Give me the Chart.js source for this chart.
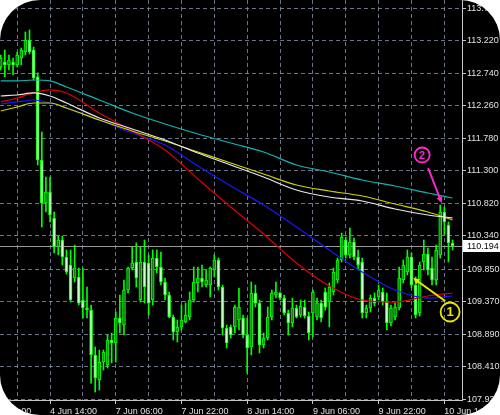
<!DOCTYPE html>
<html>
<head>
<meta charset="utf-8">
<script src="https://cdn.jsdelivr.net/npm/chart.js@4.4.1/dist/chart.umd.min.js"></script>
<style>
  html, body { margin: 0; padding: 0; background: #fff; }
  #frame { width: 500px; height: 415px; border-radius: 40px; overflow: hidden; background: #000; }
  canvas { display: block; }
</style>
</head>
<body>
<div id="frame"><canvas id="chart" width="500" height="415"></canvas></div>
<script>
// H1 candles, first one is 4 Jun 02:00, last one 10 Jun 16:00
const openP = [
  112.832, 112.906, 112.862, 112.906, 112.862, 112.965, 113.053, 113.230, 113.083, 112.685,
  111.460, 110.826, 110.988, 110.605, 110.177, 110.280, 110.029, 109.911, 109.719, 109.734,
  109.395, 109.277, 109.247, 108.584, 108.215, 108.480, 108.436, 108.805, 108.761, 109.129,
  109.026, 109.542, 109.867, 109.956, 109.395, 109.956, 109.941, 109.395, 110.014, 109.882,
  109.660, 109.469, 109.144, 108.923, 108.997, 109.070, 109.144, 109.395, 109.646, 109.719,
  109.616, 109.616, 109.838, 109.985, 109.587, 108.982, 108.997, 108.997, 109.100, 109.129,
  108.879, 108.702, 109.498, 109.350, 108.731, 108.834, 109.144, 109.469, 109.498, 109.424,
  109.203, 109.056, 109.277, 109.174, 109.291, 109.159, 109.203, 109.144, 109.350, 109.513,
  109.365, 109.513, 109.690, 109.985, 110.280, 110.059, 110.251, 110.029, 109.956, 109.203,
  109.277, 109.424, 109.439, 109.513, 109.365, 109.056, 109.144, 109.277, 109.690, 109.808,
  110.029, 109.616, 109.203, 109.956, 110.074, 109.867, 109.690, 110.059, 110.693, 110.501,
  110.236
];
const highP = [
  113.009, 113.083, 113.009, 112.965, 113.053, 113.112, 113.348, 113.378, 113.127, 112.744,
  111.873, 111.209, 111.209, 110.693, 110.339, 110.339, 110.133, 110.133, 110.206, 109.867,
  109.867, 109.587, 109.321, 108.702, 108.657, 108.657, 108.879, 108.908, 109.218, 109.469,
  109.690, 109.882, 110.177, 110.236, 110.177, 110.280, 110.059, 110.133, 110.133, 110.103,
  109.719, 109.513, 109.174, 109.100, 109.321, 109.350, 109.513, 109.882, 109.882, 109.911,
  109.838, 109.882, 110.059, 110.014, 109.616, 109.026, 109.026, 109.321, 109.572, 109.174,
  109.129, 109.660, 109.616, 109.395, 108.908, 109.291, 109.542, 109.660, 109.513, 109.469,
  109.247, 109.424, 109.321, 109.395, 109.395, 109.218, 109.542, 109.424, 109.395, 109.572,
  109.646, 109.867, 110.014, 110.383, 110.324, 110.457, 110.310, 110.133, 110.014, 109.321,
  109.469, 109.498, 109.616, 109.572, 109.498, 109.321, 109.350, 109.882, 109.985, 110.133,
  110.088, 109.734, 109.956, 110.280, 110.162, 110.029, 110.206, 110.796, 110.767, 110.546,
  110.280
];
const lowP = [
  112.788, 112.685, 112.788, 112.714, 112.832, 112.862, 113.009, 113.024, 112.640, 111.386,
  110.471, 110.693, 110.546, 110.088, 110.059, 109.911, 109.778, 109.365, 109.660, 109.321,
  109.129, 109.129, 108.170, 108.037, 108.067, 108.362, 108.392, 108.466, 108.480, 108.908,
  108.879, 109.498, 109.838, 109.587, 109.365, 109.350, 109.174, 109.321, 109.793, 109.616,
  109.395, 109.129, 108.805, 108.775, 108.952, 109.056, 109.100, 109.365, 109.513, 109.587,
  109.587, 109.439, 109.734, 109.542, 108.879, 108.687, 108.834, 108.908, 108.952, 108.834,
  108.318, 108.584, 109.291, 108.613, 108.687, 108.805, 109.100, 109.424, 109.395, 109.174,
  108.879, 108.997, 109.129, 109.144, 109.129, 108.805, 108.849, 109.100, 109.070, 109.247,
  108.997, 109.469, 109.646, 109.956, 110.014, 110.014, 109.985, 109.838, 109.129, 109.129,
  109.218, 109.306, 109.395, 109.321, 108.952, 109.011, 109.100, 109.247, 109.646, 109.764,
  109.572, 109.129, 109.159, 109.838, 109.764, 109.616, 109.616, 110.014, 110.354, 109.956,
  110.133
];
const closeP = [
  112.965, 112.862, 112.935, 112.862, 113.009, 113.083, 113.230, 113.053, 112.670, 111.460,
  110.826, 110.988, 110.649, 110.177, 110.280, 110.029, 109.808, 109.395, 109.867, 109.350,
  109.277, 109.247, 108.584, 108.244, 108.480, 108.628, 108.805, 108.761, 109.129, 109.056,
  109.542, 109.867, 109.941, 109.719, 109.956, 109.587, 109.350, 110.014, 109.882, 109.660,
  109.469, 109.144, 108.923, 108.997, 109.100, 109.174, 109.395, 109.660, 109.719, 109.660,
  109.690, 109.867, 109.985, 109.587, 108.982, 108.761, 108.879, 109.291, 109.291, 108.879,
  108.687, 109.498, 109.350, 108.731, 108.834, 109.144, 109.498, 109.513, 109.424, 109.203,
  109.056, 109.277, 109.144, 109.306, 109.159, 108.908, 109.513, 109.350, 109.129, 109.291,
  109.587, 109.808, 109.985, 110.324, 110.059, 110.251, 110.029, 109.911, 109.203, 109.277,
  109.424, 109.350, 109.542, 109.365, 109.056, 109.277, 109.291, 109.719, 109.911, 110.029,
  109.616, 109.174, 109.911, 110.074, 109.838, 109.690, 110.133, 110.693, 110.546, 110.236,
  110.194
];

// moving averages, read at these candles
const maIdx = [0, 4, 8, 12, 16, 24, 32, 40, 48, 56, 64, 72, 80, 88, 96, 104, 110];
const maCyan = [112.626, 112.626, 112.640, 112.626, 112.537, 112.345, 112.153, 111.991, 111.844, 111.711, 111.578, 111.386, 111.283, 111.165, 111.076, 110.973, 110.899];
const maWhite = [112.404, 112.419, 112.449, 112.404, 112.301, 112.080, 111.917, 111.755, 111.563, 111.386, 111.209, 111.017, 110.914, 110.855, 110.737, 110.649, 110.605];
const maYellow = [112.183, 112.242, 112.301, 112.301, 112.227, 112.050, 111.888, 111.740, 111.578, 111.416, 111.253, 111.091, 111.003, 110.929, 110.811, 110.693, 110.575];
const maRed = [112.316, 112.375, 112.449, 112.493, 112.449, 112.153, 111.888, 111.607, 111.180, 110.767, 110.369, 109.941, 109.601, 109.395, 109.365, 109.454, 109.498];
const maBlue = [112.286, 112.316, 112.345, 112.301, 112.227, 112.050, 111.858, 111.681, 111.371, 111.076, 110.796, 110.471, 110.133, 109.808, 109.542, 109.424, 109.454];

// axes
const gridIdx = [-4, 4, 12, 20, 28, 36, 44, 52, 60, 68, 76, 84, 92, 100, 108];
const labelIdx = [-4, 12, 28, 44, 60, 76, 92, 108];
const timeLabels = ['3 Jun 22:00', '4 Jun 14:00', '7 Jun 06:00', '7 Jun 22:00', '8 Jun 14:00', '9 Jun 06:00', '9 Jun 22:00', '10 Jun 14:00'];
const priceTicks = [113.700, 113.220, 112.740, 112.260, 111.780, 111.300, 110.820, 110.340, 109.850, 109.370, 108.890, 108.410, 107.930];

const lastPrice = closeP[closeP.length - 1];
const LIME = '#00ff00';
const GRID = 'rgba(140,155,180,0.75)';
const FONT = { family: 'Liberation Sans', size: 9 };

const candles = openP.map((o, i) => i);
const bull = candles.map(i => closeP[i] >= openP[i]);

function maLine(values, color) {
  return {
    type: 'line',
    data: maIdx.map((x, k) => ({ x: x, y: values[k] })),
    borderColor: color,
    borderWidth: 1.2,
    pointRadius: 0,
    cubicInterpolationMode: 'monotone',
    order: 0
  };
}

function arrow(ctx, x1, y1, x2, y2, color, width, head) {
  const a = Math.atan2(y2 - y1, x2 - x1);
  ctx.strokeStyle = color;
  ctx.fillStyle = color;
  ctx.lineWidth = width;
  ctx.beginPath();
  ctx.moveTo(x1, y1);
  ctx.lineTo(x2 - Math.cos(a) * head * 0.8, y2 - Math.sin(a) * head * 0.8);
  ctx.stroke();
  ctx.beginPath();
  ctx.moveTo(x2, y2);
  ctx.lineTo(x2 - head * Math.cos(a - 0.45), y2 - head * Math.sin(a - 0.45));
  ctx.lineTo(x2 - head * Math.cos(a + 0.45), y2 - head * Math.sin(a + 0.45));
  ctx.closePath();
  ctx.fill();
}

// circled numbers with arrows, anchored in candle/price space
const notes = [
  { text: '2', idx: 102.6, price: 111.534, r: 7.5, size: 11, color: '#ff28d2', from: [104.05, 111.342], to: [107.35, 110.826] },
  { text: '1', idx: 109.4, price: 109.218, r: 9.5, size: 13, color: '#e8e800', from: [108.2, 109.380], to: [100.4, 109.719] }
];

const overlay = {
  id: 'overlay',
  beforeDatasetsDraw(chart) {
    const { ctx, chartArea, scales: { y } } = chart;
    const py = Math.round(y.getPixelForValue(lastPrice)) + 0.5;
    ctx.save();
    ctx.strokeStyle = '#9a9a9a';
    ctx.lineWidth = 1;
    ctx.beginPath();
    ctx.moveTo(chartArea.left, py);
    ctx.lineTo(chartArea.right, py);
    ctx.stroke();
    ctx.restore();
  },
  afterDraw(chart) {
    const { ctx, chartArea, scales: { x, y } } = chart;
    ctx.save();
    // current price box
    const py = Math.round(y.getPixelForValue(lastPrice));
    ctx.fillStyle = '#ffffff';
    ctx.fillRect(chartArea.right + 1, py - 6, 40, 12);
    ctx.fillStyle = '#000000';
    ctx.font = '9px "Liberation Sans"';
    ctx.textBaseline = 'middle';
    ctx.textAlign = 'left';
    ctx.fillText(lastPrice.toFixed(3), chartArea.right + 5, py + 0.5);

    notes.forEach(n => {
      const cx = x.getPixelForValue(n.idx), cy = y.getPixelForValue(n.price);
      arrow(ctx, x.getPixelForValue(n.from[0]), y.getPixelForValue(n.from[1]),
        x.getPixelForValue(n.to[0]), y.getPixelForValue(n.to[1]), n.color, 2, 7);
      ctx.strokeStyle = n.color;
      ctx.lineWidth = 1.8;
      ctx.beginPath();
      ctx.arc(cx, cy, n.r, 0, Math.PI * 2);
      ctx.stroke();
      ctx.fillStyle = n.color;
      ctx.font = 'bold ' + n.size + 'px "Liberation Sans"';
      ctx.textAlign = 'center';
      ctx.textBaseline = 'middle';
      ctx.fillText(n.text, cx, cy + 0.5);
    });
    ctx.restore();
  }
};

new Chart(document.getElementById('chart'), {
  type: 'bar',
  data: {
    datasets: [
      maLine(maCyan, '#10b4b4'),
      maLine(maWhite, '#e8e8e8'),
      maLine(maYellow, '#d2d200'),
      maLine(maRed, '#dd0000'),
      maLine(maBlue, '#1818ff'),
      {
        // candle bodies
        data: candles.map(i => ({ x: i, y: [openP[i], closeP[i]] })),
        backgroundColor: bull.map(b => (b ? '#1a7a1a' : '#c8fcc8')),
        borderColor: LIME,
        borderWidth: 1,
        borderSkipped: false,
        barThickness: 3,
        grouped: false,
        order: 1
      },
      {
        // wicks
        data: candles.map(i => ({ x: i, y: [lowP[i], highP[i]] })),
        backgroundColor: LIME,
        barThickness: 1,
        grouped: false,
        order: 2
      }
    ]
  },
  options: {
    responsive: false,
    animation: false,
    layout: { padding: 0 },
    plugins: { legend: { display: false }, tooltip: { enabled: false } },
    scales: {
      x: {
        type: 'linear',
        position: 'bottom',
        offset: false,
        min: -0.18,
        max: 112.3,
        afterBuildTicks: s => { s.ticks = gridIdx.map(v => ({ value: v })); },
        afterFit: s => { s.height = 15; s.paddingLeft = 0; s.paddingRight = 0; },
        ticks: {
          autoSkip: false,
          maxRotation: 0,
          align: 'start',
          padding: 2,
          color: '#e0e0e0',
          font: FONT,
          callback: v => {
            const k = labelIdx.indexOf(v);
            return k >= 0 ? timeLabels[k] : '';
          }
        },
        grid: {
          offset: false,
          color: GRID,
          lineWidth: 1,
          tickLength: 4,
          tickColor: c => (c.tick && labelIdx.includes(c.tick.value) ? '#c8c8c8' : 'rgba(0,0,0,0)')
        },
        border: { display: true, color: '#c8c8c8', width: 1, dash: [4, 3] }
      },
      y: {
        type: 'linear',
        position: 'right',
        min: 107.92,
        max: 113.82,
        afterBuildTicks: s => { s.ticks = priceTicks.map(v => ({ value: v })); },
        afterFit: s => { s.width = 38; s.paddingTop = 0; s.paddingBottom = 0; },
        ticks: {
          padding: 1,
          color: '#e0e0e0',
          font: FONT,
          callback: v => v.toFixed(3)
        },
        grid: { color: GRID, lineWidth: 1, tickLength: 4, tickColor: '#c8c8c8' },
        border: { display: true, color: '#c8c8c8', width: 1, dash: [4, 3] }
      }
    }
  },
  plugins: [overlay]
});
</script>
</body>
</html>
